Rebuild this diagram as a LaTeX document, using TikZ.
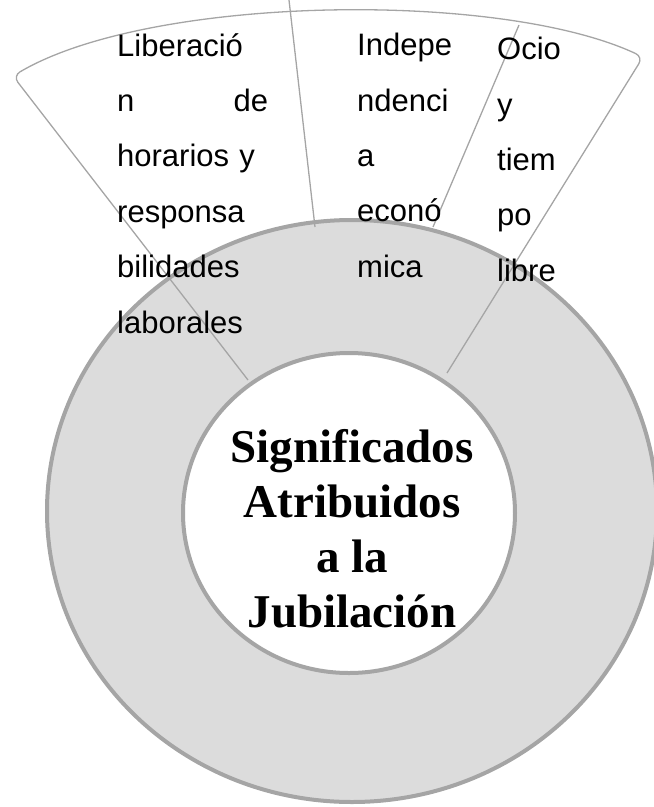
\documentclass[tikz,border=0pt]{standalone}
\usepackage{fontspec}
\setmainfont{Liberation Serif}
\newfontfamily\labelfont{Liberation Sans}
\definecolor{ringgray}{RGB}{165,165,165}
\definecolor{ringfill}{RGB}{220,220,220}
\begin{document}
\begin{tikzpicture}[x=1pt,y=-1pt,
    rim/.style={draw=ringgray,line width=4pt},
    spoke/.style={draw=ringgray,line width=1.3pt},
    item/.style={font=\labelfont\fontsize{31}{55.4}\selectfont,align=left,anchor=north west,inner sep=0pt}]
            \useasboundingbox (0,0) rectangle (654,807);
            \coordinate (A) at (248,380);\coordinate (B) at (13,76);\coordinate (C) at (643,57);\coordinate (D) at (447,373);\coordinate (E) at (289,0);\coordinate (F) at (315,227);\coordinate (G) at (519,25);\coordinate (H) at (433,227);\coordinate (O) at (352,511);\coordinate (I) at (349,513);

            \filldraw[rim, fill=ringfill] (O) ellipse [x radius=305pt, y radius=291pt];
            \filldraw[rim, fill=white] (I) ellipse [x radius=166pt, y radius=160pt];

            \draw[spoke, rounded corners=8pt] (A) -- (B) .. controls (150,-5) and (500,-10) .. (C) -- (D);
            \draw[spoke] (E) -- (F);
            \draw[spoke] (G) -- (H);

            \node[item, text width=151pt] (lib) at (117,33) {Liberació\\n \hfill de\\horarios y\\responsa\\bilidades\\laborales};
            \node[item, text width=95pt] (ind) at (357,33) {Indepe\\ndenci\\a\\econó\\mica};
            \node[item, text width=62pt] (ocio) at (497,37) {Ocio\\y\\tiem\\po\\libre};

            \node[font=\bfseries\fontsize{47}{55}\selectfont, align=center, anchor=north, inner sep=0pt] (sig) at (352,429) {Significados\\Atribuidos\\a la\\Jubilación};
        \end{tikzpicture}
\end{document}
